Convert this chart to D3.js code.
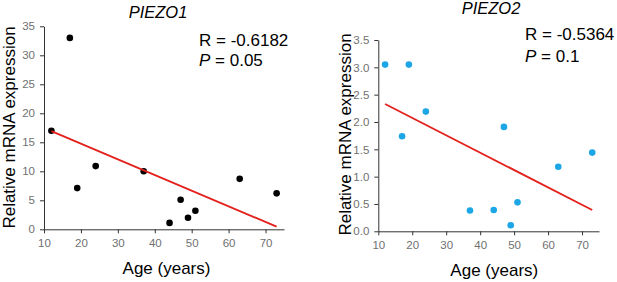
<!DOCTYPE html>
<html>
<head>
<meta charset="utf-8">
<script src="https://cdn.jsdelivr.net/npm/d3@7"></script>
<style>
    body { margin: 0; background: #fff; }
    text { font-family: Arial, "Liberation Sans", sans-serif; }
    .axis path, .axis line { stroke: #333; }
    .axis text { fill: #707070; font-size: 11.5px; }
</style>
</head>
<body>
<div id="chart-area"></div>
<script>
// ages of the 11 donors (PIEZO1 order)
const ages = [12, 17, 19, 24, 37, 44, 47, 49, 51, 63, 73];

// PIEZO1 relative expression, same order as ages
const piezo1Values = [17.0, 33.0, 7.1, 10.9, 10.0, 1.1, 5.1, 2.0, 3.2, 8.7, 6.2];
// PIEZO2 relative expression
const piezo2Ages = [12, 19, 17, 24, 37, 44, 47, 49, 51, 63, 73];
const piezo2Values = [3.05, 3.05, 1.74, 2.19, 0.38, 0.39, 1.91, 0.11, 0.53, 1.18, 1.44];

// fitted regression line end points [age, value]
const piezo1Fit = [[12, 16.93], [73, 0.45]];
const piezo2Fit = [[12, 2.33], [73, 0.39]];

const ageTicks = [10, 20, 30, 40, 50, 60, 70];
const piezo1Ticks = [0, 5, 10, 15, 20, 25, 30, 35];
const piezo2Ticks = [0, 0.5, 1, 1.5, 2, 2.5, 3, 3.5];

const stats1 = ["R = -0.6182", "0.05"];
const stats2 = ["R = -0.5364", "0.1"];

class ScatterPlot {
    constructor(svg, cfg) {
        this.svg = svg;
        this.cfg = cfg;
        this.initVis();
    }

    initVis() {
        let vis = this, c = vis.cfg;

        vis.x = d3.scaleLinear().domain([10, 75]).range(c.xRange);
        vis.y = d3.scaleLinear().domain(c.yDomain).range(c.yRange);

        vis.g = vis.svg.append("g");

        // axes
        vis.g.append("g")
            .attr("class", "axis axis--x")
            .attr("transform", "translate(0," + c.yRange[0] + ")")
            .call(d3.axisBottom(vis.x).tickValues(ageTicks).tickSize(4).tickSizeOuter(0).tickPadding(4))
            .call(g => g.selectAll("text").attr("dy", "0.85em"));

        vis.g.append("g")
            .attr("class", "axis axis--y")
            .attr("transform", "translate(" + c.xRange[0] + ",0)")
            .call(d3.axisLeft(vis.y).tickValues(c.yTicks).tickSize(4).tickSizeOuter(0).tickPadding(5));

        // data points
        vis.g.selectAll(".dot")
            .data(c.ages.map((a, i) => ({age: a, val: c.values[i]})))
            .enter()
            .append("circle")
            .attr("class", "dot")
            .attr("cx", d => vis.x(d.age))
            .attr("cy", d => vis.y(d.val))
            .attr("r", 3.3)
            .attr("fill", c.dotColor);

        // regression line
        vis.g.append("path")
            .datum(c.fit)
            .attr("fill", "none")
            .attr("stroke", "#e3201b")
            .attr("stroke-width", 1.8)
            .attr("d", d3.line().x(d => vis.x(d[0])).y(d => vis.y(d[1])));

        // title (gene name)
        vis.g.append("text")
            .attr("x", c.titlePos[0])
            .attr("y", c.titlePos[1])
            .attr("text-anchor", "middle")
            .attr("font-style", "italic")
            .attr("font-size", "16.5px")
            .text(c.title);

        // R and P values
        vis.g.append("text")
            .attr("x", c.statPos[0])
            .attr("y", c.statPos[1])
            .attr("font-size", "17px")
            .text(c.stats[0]);
        let p = vis.g.append("text")
            .attr("x", c.statPos[0])
            .attr("y", c.statPos[1] + c.statGap)
            .attr("font-size", "17px");
        p.append("tspan").attr("font-style", "italic").text("P");
        p.append("tspan").text(" = " + c.stats[1]);

        // axis labels
        vis.g.append("text")
            .attr("x", c.xLabelPos[0])
            .attr("y", c.xLabelPos[1])
            .attr("text-anchor", "middle")
            .attr("font-size", "17px")
            .text("Age (years)");

        vis.g.append("text")
            .attr("transform", `translate(${c.yLabelPos[0]}, ${c.yLabelPos[1]}) rotate(-90)`)
            .attr("text-anchor", "middle")
            .attr("font-size", "17px")
            .text("Relative mRNA expression");
    }
}

const svg = d3.select("#chart-area").append("svg")
    .attr("width", 617)
    .attr("height", 282);

new ScatterPlot(svg, {
    ages: ages, values: piezo1Values, fit: piezo1Fit,
    yDomain: [0, 35], yTicks: piezo1Ticks,
    xRange: [44, 284], yRange: [229.3, 26.3],
    dotColor: "#000",
    title: "PIEZO1", titlePos: [158, 18],
    stats: stats1, statPos: [199, 46], statGap: 20,
    xLabelPos: [166.5, 274], yLabelPos: [15, 127.5]
});

new ScatterPlot(svg, {
    ages: piezo2Ages, values: piezo2Values, fit: piezo2Fit,
    yDomain: [0, 3.5], yTicks: piezo2Ticks,
    xRange: [378.3, 599], yRange: [231.3, 40],
    dotColor: "#1ca6e6",
    title: "PIEZO2", titlePos: [491, 14],
    stats: stats2, statPos: [525, 40], statGap: 21.5,
    xLabelPos: [494.3, 276], yLabelPos: [351, 134.5]
});
</script>
</body>
</html>
